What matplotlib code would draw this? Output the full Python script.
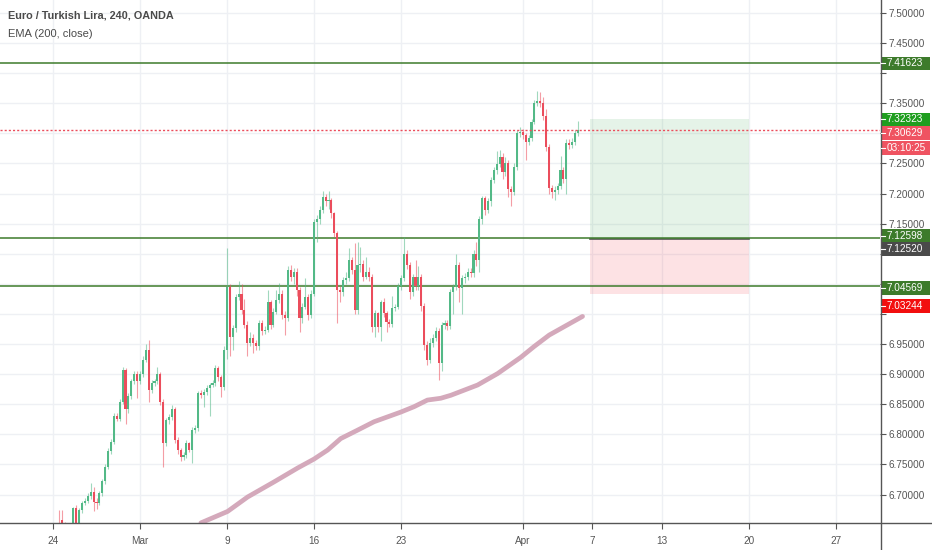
import matplotlib
matplotlib.use("Agg")
import matplotlib.pyplot as plt
from matplotlib.patches import Rectangle
from matplotlib.lines import Line2D
from matplotlib.transforms import IdentityTransform
import numpy as np

# ---------------- data ----------------
title = "Euro / Turkish Lira, 240, OANDA"
indicator = "EMA (200, close)"

opens = [6.650, 6.657, 6.652, 6.645, 6.640, 6.645, 6.677, 6.650, 6.674, 6.686,
         6.690, 6.697, 6.704, 6.688, 6.686, 6.702, 6.722, 6.746, 6.773, 6.788,
         6.831, 6.826, 6.854, 6.907, 6.842, 6.863, 6.888, 6.901, 6.888, 6.901,
         6.924, 6.941, 6.874, 6.885, 6.888, 6.901, 6.854, 6.785, 6.824, 6.829,
         6.843, 6.791, 6.774, 6.763, 6.765, 6.785, 6.774, 6.807, 6.810, 6.868,
         6.866, 6.871, 6.877, 6.882, 6.885, 6.910, 6.895, 6.879, 6.940, 7.045,
         6.962, 6.976, 7.029, 7.034, 7.007, 6.982, 6.951, 6.960, 6.951, 6.946,
         6.985, 6.971, 6.974, 7.020, 6.982, 7.004, 7.023, 7.034, 6.998, 6.993,
         7.073, 7.062, 7.070, 7.040, 6.993, 7.012, 7.029, 6.998, 7.034, 7.153,
         7.157, 7.173, 7.194, 7.187, 7.189, 7.167, 7.134, 7.040, 7.037, 7.056,
         7.059, 7.090, 7.073, 7.007, 7.081, 7.083, 7.062, 7.070, 7.062, 6.979,
         7.001, 6.979, 7.020, 7.001, 6.987, 6.983, 7.010, 7.012, 7.047, 7.059,
         7.100, 7.081, 7.037, 7.062, 7.047, 7.062, 7.013, 6.949, 6.924, 6.951,
         6.960, 6.971, 6.918, 6.982, 6.985, 6.980, 7.037, 7.045, 7.081, 7.043,
         7.059, 7.062, 7.070, 7.068, 7.100, 7.090, 7.157, 7.192, 7.173, 7.187,
         7.223, 7.239, 7.249, 7.261, 7.236, 7.250, 7.207, 7.203, 7.244, 7.300,
         7.303, 7.297, 7.286, 7.292, 7.319, 7.351, 7.354, 7.350, 7.329, 7.278,
         7.209, 7.203, 7.206, 7.213, 7.239, 7.225, 7.284, 7.280, 7.286, 7.300]

closes = [6.648, 6.652, 6.645, 6.640, 6.645, 6.677, 6.650, 6.674, 6.686, 6.690,
          6.697, 6.704, 6.688, 6.686, 6.702, 6.722, 6.746, 6.773, 6.788, 6.831,
          6.826, 6.854, 6.907, 6.842, 6.863, 6.888, 6.901, 6.888, 6.901, 6.924,
          6.941, 6.874, 6.885, 6.888, 6.901, 6.854, 6.785, 6.824, 6.829, 6.843,
          6.791, 6.774, 6.763, 6.765, 6.785, 6.774, 6.807, 6.810, 6.868, 6.866,
          6.871, 6.877, 6.882, 6.885, 6.910, 6.895, 6.879, 6.940, 7.045, 6.962,
          6.976, 7.029, 7.034, 7.007, 6.982, 6.951, 6.960, 6.951, 6.946, 6.985,
          6.971, 6.974, 7.020, 6.982, 7.004, 7.023, 7.034, 6.998, 6.993, 7.073,
          7.062, 7.070, 7.040, 6.993, 7.012, 7.029, 6.998, 7.034, 7.153, 7.157,
          7.173, 7.194, 7.187, 7.189, 7.167, 7.134, 7.040, 7.037, 7.056, 7.059,
          7.090, 7.073, 7.007, 7.081, 7.083, 7.062, 7.070, 7.062, 6.979, 7.001,
          6.979, 7.020, 7.001, 6.987, 6.983, 7.010, 7.012, 7.047, 7.059, 7.100,
          7.081, 7.037, 7.062, 7.047, 7.062, 7.013, 6.949, 6.924, 6.951, 6.960,
          6.971, 6.918, 6.982, 6.985, 6.980, 7.037, 7.045, 7.081, 7.043, 7.059,
          7.062, 7.070, 7.068, 7.100, 7.090, 7.157, 7.192, 7.173, 7.187, 7.223,
          7.239, 7.249, 7.261, 7.236, 7.250, 7.207, 7.203, 7.244, 7.300, 7.303,
          7.297, 7.286, 7.292, 7.319, 7.351, 7.354, 7.350, 7.329, 7.278, 7.209,
          7.203, 7.206, 7.213, 7.239, 7.225, 7.284, 7.280, 7.286, 7.300, 7.30629]

highs = [6.675, 6.674, 6.655, 6.650, 6.650, 6.680, 6.682, 6.678, 6.690, 6.695,
         6.702, 6.720, 6.712, 6.694, 6.706, 6.726, 6.750, 6.778, 6.792, 6.835,
         6.836, 6.858, 6.912, 6.910, 6.868, 6.892, 6.906, 6.905, 6.905, 6.930,
         6.950, 6.957, 6.890, 6.892, 6.912, 6.904, 6.858, 6.828, 6.834, 6.848,
         6.846, 6.795, 6.778, 6.770, 6.790, 6.788, 6.812, 6.815, 6.872, 6.874,
         6.876, 6.882, 6.886, 6.890, 6.916, 6.914, 6.898, 6.946, 7.109, 7.050,
         6.982, 7.034, 7.055, 7.050, 7.025, 6.988, 6.970, 6.966, 6.956, 6.990,
         6.990, 6.980, 7.040, 7.024, 7.010, 7.040, 7.052, 7.040, 7.005, 7.080,
         7.082, 7.077, 7.076, 7.045, 7.018, 7.060, 7.034, 7.040, 7.158, 7.165,
         7.180, 7.205, 7.200, 7.205, 7.192, 7.170, 7.138, 7.046, 7.062, 7.070,
         7.110, 7.095, 7.118, 7.120, 7.112, 7.090, 7.095, 7.078, 7.066, 7.006,
         7.004, 7.024, 7.026, 7.005, 6.992, 7.030, 7.016, 7.052, 7.064, 7.128,
         7.106, 7.086, 7.066, 7.090, 7.080, 7.066, 7.018, 6.955, 6.960, 6.966,
         6.978, 6.976, 6.986, 6.990, 6.990, 7.042, 7.050, 7.100, 7.086, 7.065,
         7.068, 7.076, 7.076, 7.106, 7.120, 7.162, 7.196, 7.196, 7.192, 7.228,
         7.244, 7.270, 7.272, 7.268, 7.260, 7.255, 7.212, 7.250, 7.305, 7.310,
         7.308, 7.300, 7.298, 7.324, 7.356, 7.370, 7.368, 7.360, 7.340, 7.282,
         7.215, 7.212, 7.218, 7.262, 7.244, 7.290, 7.290, 7.292, 7.305, 7.320]

lows = [6.640, 6.645, 6.638, 6.632, 6.635, 6.642, 6.646, 6.648, 6.670, 6.682,
        6.686, 6.692, 6.672, 6.676, 6.682, 6.698, 6.718, 6.742, 6.768, 6.784,
        6.822, 6.822, 6.850, 6.818, 6.836, 6.858, 6.884, 6.860, 6.884, 6.896,
        6.920, 6.854, 6.868, 6.880, 6.884, 6.848, 6.746, 6.780, 6.818, 6.824,
        6.786, 6.768, 6.756, 6.758, 6.760, 6.770, 6.752, 6.802, 6.806, 6.860,
        6.846, 6.866, 6.830, 6.878, 6.880, 6.888, 6.862, 6.874, 6.925, 6.930,
        6.940, 6.970, 7.024, 7.000, 6.976, 6.930, 6.946, 6.935, 6.940, 6.940,
        6.965, 6.966, 6.970, 6.975, 6.978, 7.000, 7.018, 6.992, 6.965, 6.988,
        7.055, 7.050, 7.030, 6.970, 6.985, 7.008, 6.990, 6.994, 7.030, 7.120,
        7.150, 7.168, 7.180, 7.175, 7.160, 7.128, 6.985, 7.020, 7.030, 7.050,
        7.055, 7.066, 7.000, 7.000, 7.070, 7.055, 7.058, 7.055, 6.970, 6.962,
        6.970, 6.955, 6.995, 6.970, 6.978, 6.978, 7.005, 7.008, 7.040, 7.055,
        7.074, 7.025, 7.030, 7.040, 7.040, 7.005, 6.940, 6.915, 6.918, 6.945,
        6.955, 6.890, 6.905, 6.975, 6.974, 6.975, 7.000, 7.040, 7.020, 7.000,
        7.052, 7.056, 7.062, 7.062, 7.080, 7.070, 7.150, 7.165, 7.168, 7.180,
        7.218, 7.232, 7.244, 7.225, 7.230, 7.195, 7.180, 7.198, 7.240, 7.294,
        7.290, 7.255, 7.280, 7.288, 7.315, 7.346, 7.344, 7.322, 7.270, 7.200,
        7.192, 7.190, 7.200, 7.208, 7.218, 7.200, 7.274, 7.276, 7.280, 7.296]

# EMA(200) readings: (bar index, value)
ema_bars = [50.0, 59.2, 66.1, 75.2, 83.3, 89.0, 93.7, 98.2, 104.0, 109.7,
            118.9, 123.5, 128.1, 132.7, 136.2, 145.4, 152.3, 160.3, 164.9, 170.1,
            176.4, 181.6]
ema_vals = [6.653, 6.672, 6.696, 6.721, 6.744, 6.759, 6.774, 6.793, 6.807, 6.821,
            6.837, 6.846, 6.857, 6.860, 6.865, 6.882, 6.901, 6.928, 6.946, 6.965,
            6.982, 6.996]

# date axis
date_labels = ["24", "Mar", "9", "16", "23", "Apr", "7", "13", "20", "27"]
date_trading_day = [0, 5, 10, 15, 20, 27, 31, 35, 40, 45]   # trading days after Feb 24
bars_per_day = 6
feb24_bar = -1

# horizontal levels and long position tool
levels = [7.41623, 7.12598, 7.04569]
pos_target, pos_entry, pos_stop = 7.32323, 7.12520, 7.03244
pos_bars = [184, 239]
countdown = "03:10:25"

# ---------------- style ----------------
UP, DOWN = "#53b987", "#eb4d5c"
LEVEL = "#3d7b2b"
GRID = "#eef0f4"
AX = "#555555"
W, H = 932, 550
AX_R, AX_B = 880, 523           # pixel position of price axis / time axis
plt.rcParams["font.family"] = ["Liberation Sans", "DejaVu Sans"]

fig = plt.figure(figsize=(W / 100, H / 100), dpi=100)
ax = fig.add_axes([0, (H - AX_B) / H, AX_R / W, AX_B / H])
ax.set_xlim(-19.28, 284.17)
ax.set_ylim(6.6528, 7.5216)

n = len(closes)
idx = np.arange(1, n + 1)
o = np.array(opens); c = np.array(closes); hi = np.array(highs); lo = np.array(lows)
up = c >= o
cols = np.where(up, UP, DOWN)

# grid
yt = np.round(np.arange(6.70, 7.5001, 0.05), 2)
xt = [feb24_bar + bars_per_day * d for d in date_trading_day]
for y in yt:
    ax.axhline(y, color=GRID, lw=1, zorder=0)
for x in xt:
    ax.axvline(x, color=GRID, lw=1, zorder=0)

# position tool
ax.add_patch(Rectangle((pos_bars[0], pos_entry), pos_bars[1] - pos_bars[0], pos_target - pos_entry,
                       facecolor="#2ea043", alpha=0.12, edgecolor="none", zorder=1))
ax.add_patch(Rectangle((pos_bars[0], pos_stop), pos_bars[1] - pos_bars[0], pos_entry - pos_stop,
                       facecolor="#f23645", alpha=0.14, edgecolor="none", zorder=1))
ax.plot(pos_bars, [pos_entry, pos_entry], color="#555555", lw=1.2, zorder=2)

# horizontal levels
for lv in levels:
    ax.axhline(lv, color=LEVEL, lw=1.1, zorder=2)

# EMA
ax.plot(ema_bars, ema_vals, color="#d4a9bb", lw=3.4, solid_capstyle="round",
        solid_joinstyle="round", zorder=3)

# candles
ax.vlines(idx, lo, hi, colors=cols, lw=0.8, alpha=0.55, zorder=4)
body_h = np.maximum(np.abs(c - o), 0.0016)
ax.bar(idx, body_h, bottom=np.minimum(o, c), width=0.75, color=cols, linewidth=0, zorder=5)

# last price dotted line
ax.axhline(closes[-1], color=DOWN, lw=1, ls=(0, (1.5, 1.5)), zorder=6)

# price labels on the axis (value text, colour, shift in px from true position)
def price_to_pix(p):
    return ax.transData.transform((0, p))[1]

labels = [
    (f"{levels[0]:.5f}", LEVEL, 0),
    (f"{pos_target:.5f}", "#1f9e1f", 0),
    (f"{closes[-1]:.5f}", "#ef5361", 3.5),
    (countdown, "#ef5361", 18.5),
    (f"{levels[1]:.5f}", LEVEL, -2),
    (f"{pos_entry:.5f}", "#4a4a4a", 10.5),
    (f"{levels[2]:.5f}", LEVEL, 1.5),
    (f"{pos_stop:.5f}", "#f20f0f", 11.5),
]
anchor_vals = [levels[0], pos_target, closes[-1], closes[-1], levels[1], pos_entry, levels[2], pos_stop]
bh = 13.5
box_centres = [price_to_pix(v) - s for (_, _, s), v in zip(labels, anchor_vals)]

# axes styling; tick labels hidden where a price box covers them
for s in ax.spines.values():
    s.set_visible(False)
ax.yaxis.tick_right()
ax.set_yticks(yt)
ytl = []
for v in yt:
    py = price_to_pix(v)
    covered = any(abs(py - bc) < 11 for bc in box_centres)
    ytl.append("" if covered else f"{v:.5f}")
ax.set_yticklabels(ytl)
ax.set_xticks(xt)
ax.set_xticklabels(date_labels)
ax.tick_params(axis="y", length=4, width=0.8, color=AX, labelcolor=AX, labelsize=7.2, pad=2)
ax.tick_params(axis="x", length=4, width=0.8, color=AX, labelcolor=AX, labelsize=7.2, pad=5)

# axis lines extending through margins
fig.add_artist(Line2D([AX_R + 0.5, AX_R + 0.5], [0, H], color=AX, lw=1, transform=IdentityTransform()))
fig.add_artist(Line2D([0, W], [H - AX_B, H - AX_B], color=AX, lw=1, transform=IdentityTransform()))

# legend texts
fig.text(8 / W, 1 - 16 / H, title, fontsize=7.8, fontweight="bold", color="#4a4a4a", va="center")
fig.text(8 / W, 1 - 34 / H, indicator, fontsize=8.0, color="#4a4a4a", va="center")

for (txt, col, shift), cy in zip(labels, box_centres):
    fig.add_artist(Rectangle((AX_R + 0.5, cy - bh / 2), 49, bh, facecolor=col, edgecolor="none",
                             transform=IdentityTransform()))
    fig.add_artist(Line2D([AX_R + 1, AX_R + 4.5], [cy, cy], color="white", lw=0.8,
                          transform=IdentityTransform()))
    fig.text(AX_R + 6.5, cy, txt, color="white", fontsize=7.2, va="center", ha="left",
             transform=IdentityTransform())

fig.savefig("out.png", dpi=100)
